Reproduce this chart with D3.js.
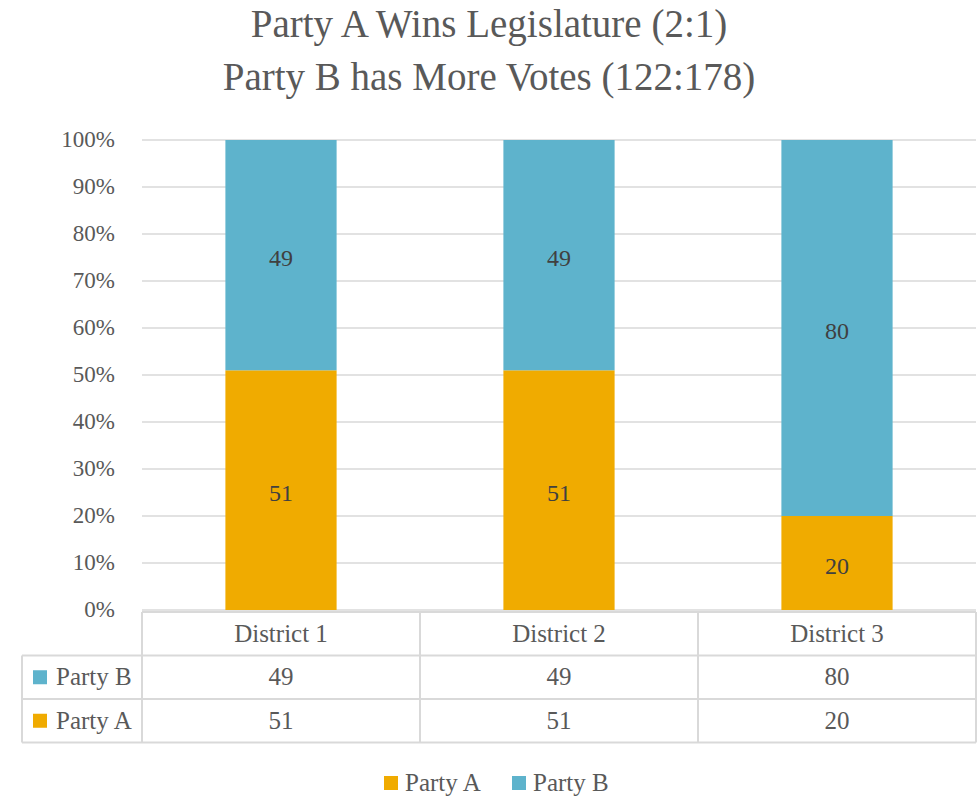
<!DOCTYPE html>
<html>
<head>
<meta charset="utf-8">
<script src="https://d3js.org/d3.v7.min.js"></script>
<style>
  html, body { margin: 0; padding: 0; background: #fff; }
  svg { display: block; }
  text { font-family: "Liberation Serif", "DejaVu Serif", serif; }
</style>
</head>
<body>
<svg id="chart" width="978" height="796"></svg>
<script>
// Votes per district
const districts = ["District 1", "District 2", "District 3"];
const partyA = [51, 51, 20];
const partyB = [49, 49, 80];
const seriesNames = ["Party A", "Party B"];
const yTicks = [0, 0.1, 0.2, 0.3, 0.4, 0.5, 0.6, 0.7, 0.8, 0.9, 1];
const titleLines = ["Party A Wins Legislature (2:1)", "Party B has More Votes (122:178)"];

const colors = { "Party A": "#F0AB00", "Party B": "#5EB3CC" };
const textColor = "#595959";
const gridColor = "#D9D9D9";

const W = 978, H = 796;
const plot = { left: 142, right: 976, top: 140, bottom: 610 };
const svg = d3.select("#chart");

// Title
svg.append("g").selectAll("text").data(titleLines).join("text")
  .attr("x", W / 2)
  .attr("y", (d, i) => 37 + i * 53)
  .attr("text-anchor", "middle")
  .attr("fill", textColor)
  .attr("font-size", 39)
  .text(d => d);

// Scales
const x = d3.scaleBand().domain(districts).range([plot.left, plot.right]).paddingInner(0.6).paddingOuter(0.3);
const band = d3.scaleBand().domain(districts).range([plot.left, plot.right]);
const y = d3.scaleLinear().domain([0, 1]).range([plot.bottom, plot.top]);

// Gridlines
svg.append("g").selectAll("line").data(yTicks).join("line")
  .attr("x1", plot.left).attr("x2", plot.right)
  .attr("y1", d => y(d)).attr("y2", d => y(d))
  .attr("stroke", gridColor).attr("stroke-width", 1.5);

// Y axis
const yAxis = d3.axisLeft(y).tickValues(yTicks).tickFormat(d3.format(".0%")).tickSize(0).tickPadding(27);
const gy = svg.append("g").attr("transform", `translate(${plot.left},0)`).call(yAxis);
gy.select(".domain").remove();
gy.selectAll("text").attr("fill", textColor).attr("font-size", 23).attr("dy", "0.3em")
  .style("font-family", "'Liberation Serif', serif");

// Stack
const rows = districts.map((d, i) => ({ district: d, "Party A": partyA[i], "Party B": partyB[i] }));
const stacked = d3.stack().keys(seriesNames).offset(d3.stackOffsetExpand)(rows);

const layers = svg.append("g").selectAll("g").data(stacked).join("g")
  .attr("fill", d => colors[d.key]);
layers.selectAll("rect").data(d => d).join("rect")
  .attr("x", d => x(d.data.district))
  .attr("width", x.bandwidth())
  .attr("y", d => y(d[1]))
  .attr("height", d => y(d[0]) - y(d[1]));

// Bar value labels
const labels = svg.append("g");
stacked.forEach(layer => {
  layer.forEach(d => {
    labels.append("text")
      .attr("x", x(d.data.district) + x.bandwidth() / 2)
      .attr("y", y((d[0] + d[1]) / 2) + 11)
      .attr("text-anchor", "middle")
      .attr("fill", "#404040")
      .attr("font-size", 24)
      .text(d.data[layer.key]);
  });
});

// Data table
const tbl = { top: 612, rowH: 43.5, labelLeft: 22 };
const tableRows = [
  { name: "Party B", values: partyB },
  { name: "Party A", values: partyA }
];
const tg = svg.append("g");
const tableBottom = tbl.top + tbl.rowH * 3;
const lineAttr = sel => sel.attr("stroke", gridColor).attr("stroke-width", 2);

// horizontal lines
tg.append("line").attr("x1", plot.left).attr("x2", plot.right).attr("y1", tbl.top).attr("y2", tbl.top).call(lineAttr);
[1, 2, 3].forEach(r => {
  tg.append("line").attr("x1", tbl.labelLeft).attr("x2", plot.right)
    .attr("y1", tbl.top + r * tbl.rowH).attr("y2", tbl.top + r * tbl.rowH).call(lineAttr);
});
// vertical lines
tg.append("line").attr("x1", tbl.labelLeft).attr("x2", tbl.labelLeft)
  .attr("y1", tbl.top + tbl.rowH).attr("y2", tableBottom).call(lineAttr);
districts.forEach(d => {
  tg.append("line").attr("x1", band(d)).attr("x2", band(d))
    .attr("y1", tbl.top).attr("y2", tableBottom).call(lineAttr);
});
tg.append("line").attr("x1", plot.right).attr("x2", plot.right)
  .attr("y1", tbl.top).attr("y2", tableBottom).call(lineAttr);

// header
tg.selectAll("text.hdr").data(districts).join("text").attr("class", "hdr")
  .attr("x", d => band(d) + band.bandwidth() / 2)
  .attr("y", tbl.top + tbl.rowH / 2 + 8)
  .attr("text-anchor", "middle").attr("fill", textColor).attr("font-size", 25)
  .text(d => d);

tableRows.forEach((row, r) => {
  const cy = tbl.top + (r + 1) * tbl.rowH + tbl.rowH / 2;
  tg.append("rect").attr("x", 33).attr("y", cy - 7).attr("width", 14).attr("height", 14)
    .attr("fill", colors[row.name]);
  tg.append("text").attr("x", 56).attr("y", cy + 8)
    .attr("fill", textColor).attr("font-size", 25).text(row.name);
  districts.forEach((d, i) => {
    tg.append("text")
      .attr("x", band(d) + band.bandwidth() / 2)
      .attr("y", cy + 8)
      .attr("text-anchor", "middle").attr("fill", textColor).attr("font-size", 25)
      .text(row.values[i]);
  });
});

// Legend
const legend = svg.append("g").attr("transform", "translate(384,776)");
const legendX = [0, 128];
seriesNames.forEach((name, i) => {
  const g = legend.append("g").attr("transform", `translate(${legendX[i]},0)`);
  g.append("rect").attr("width", 14).attr("height", 14).attr("fill", colors[name]);
  g.append("text").attr("x", 21).attr("y", 15).attr("fill", textColor).attr("font-size", 25).text(name);
});
</script>
</body>
</html>
